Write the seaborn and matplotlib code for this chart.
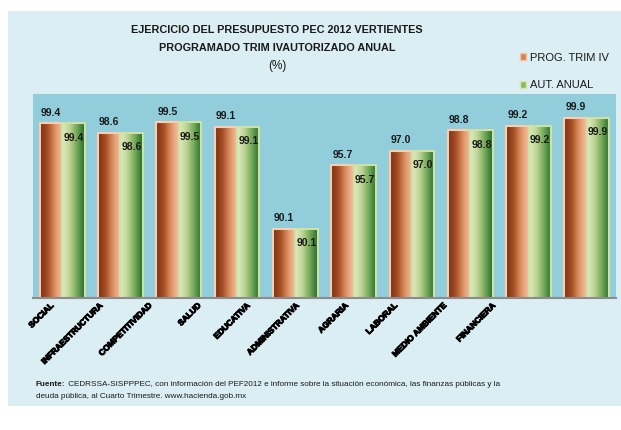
import matplotlib
matplotlib.use('Agg')
import matplotlib.pyplot as plt
import matplotlib.patheffects as pe
import seaborn as sns
import numpy as np
import pandas as pd
from matplotlib.colors import LinearSegmentedColormap
from matplotlib.patches import Rectangle, Patch

# datos
categorias = ['SOCIAL', 'INFRAESTRUCTURA', 'COMPETITIVIDAD', 'SALUD', 'EDUCATIVA',
              'ADMINISTRATIVA', 'AGRARIA', 'LABORAL', 'MEDIO AMBIENTE', 'FINANCIERA']
prog_trim_iv = [99.4, 98.6, 99.5, 99.1, 90.1, 95.7, 97.0, 98.8, 99.2, 99.9]
aut_anual = [99.4, 98.6, 99.5, 99.1, 90.1, 95.7, 97.0, 98.8, 99.2, 99.9]
series = ['PROG. TRIM IV', 'AUT. ANUAL']

sns.set_style('white')
plt.rcParams['font.family'] = ['Liberation Sans', 'DejaVu Sans']
plt.rcParams['text.color'] = '#1a1a1a'

df = pd.DataFrame({
    'vertiente': categorias * 2,
    'serie': [series[0]] * len(categorias) + [series[1]] * len(categorias),
    'valor': prog_trim_iv + aut_anual,
})

W, H = 621, 430
fig = plt.figure(figsize=(W / 100, H / 100), dpi=100)
# panel de fondo azul claro
fig.patches.append(Rectangle((8 / W, 24 / H), 1, 395 / H, transform=fig.transFigure,
                             facecolor='#DAEEF3', edgecolor='none', zorder=-5))
ax = fig.add_axes([33 / W, 132 / H, 583 / W, 204 / H])
ax.set_zorder(1)
ax.set_facecolor('#92CDDC')

sns.barplot(data=df, x='vertiente', y='valor', hue='serie', hue_order=series,
            palette=['#C0622E', '#7FAF55'], width=0.77, saturation=1,
            legend=False, ax=ax)

# degradados tipo Excel
cmap_prog = LinearSegmentedColormap.from_list('prog', ['#7A3214', '#A94E24', '#DD9466', '#F6C3A0'])
cmap_aut = LinearSegmentedColormap.from_list('aut', ['#E2ECC4', '#BCD493', '#72A656', '#1F6E2C'])
grad = np.linspace(0, 1, 64).reshape(1, -1)
for cont, cmap, edge in zip(ax.containers, [cmap_prog, cmap_aut], ['#F9CDB0', '#CFE2A6']):
    for bar in cont:
        x0, w, h = bar.get_x(), bar.get_width(), bar.get_height()
        im = ax.imshow(grad, cmap=cmap, aspect='auto', extent=[x0, x0 + w, 0, h],
                       zorder=1.5, interpolation='bicubic')
        im.set_clip_path(bar)
        im.set_clip_box(ax.bbox)
        bar.set_facecolor('none')
        bar.set_edgecolor(edge)
        bar.set_linewidth(1.5)
        bar.set_zorder(2)

ax.set_xlim(-0.5, len(categorias) - 0.5)
ax.set_ylim(84, 102)

ax.bar_label(ax.containers[0], fmt='%.1f', padding=4, fontsize=7.5, fontweight='bold')
ax.bar_label(ax.containers[1], fmt='%.1f', padding=-14, fontsize=7.5, fontweight='bold')

for s in ['top', 'right', 'left']:
    ax.spines[s].set_visible(False)
ax.spines['bottom'].set_color('#8C8C8C')
ax.spines['bottom'].set_linewidth(1.5)
ax.set_yticks([])
ax.set_xlabel('')
ax.set_ylabel('')

# marcas entre grupos y etiquetas giradas
ax.set_xticks(np.arange(-0.5, len(categorias), 1), minor=True)
ax.tick_params(axis='x', which='minor', length=4, color='#8C8C8C', width=1, direction='out')
label_pos = np.arange(len(categorias)) * 0.842 - 0.157
ax.set_xticks(label_pos)
ax.set_xticklabels(categorias, rotation=45, ha='right', va='center', rotation_mode='anchor',
                   fontsize=6, fontweight='bold', color='black')
ax.tick_params(axis='x', which='major', length=0, pad=5)
for lbl in ax.get_xticklabels():
    lbl.set_path_effects([pe.withStroke(linewidth=0.7, foreground='black')])

# titulo
fig.text(0.446, 1 - 30 / H, 'EJERCICIO DEL PRESUPUESTO PEC 2012 VERTIENTES',
         ha='center', va='center', fontsize=7.8, fontweight='bold')
fig.text(0.446, 1 - 48 / H, 'PROGRAMADO TRIM IVAUTORIZADO ANUAL',
         ha='center', va='center', fontsize=7.8, fontweight='bold')
fig.text(0.446, 1 - 66 / H, '(%)', ha='center', va='center', fontsize=8.5)

# leyenda
handles = [Patch(facecolor='#D9824F', edgecolor='#F6C3A0'),
           Patch(facecolor='#8DB864', edgecolor='#D8E8B0')]
fig.legend(handles, series, loc='upper left', bbox_to_anchor=(514 / W, 1 - 47 / H),
           frameon=False, fontsize=8, handlelength=0.6, handleheight=0.6,
           handletextpad=0.3, labelspacing=1.6, borderpad=0)

# fuente
t1 = fig.text(36 / W, 1 - 384 / H, 'Fuente:', fontweight='bold', fontsize=5.9, va='center')
fig.canvas.draw()
bb = t1.get_window_extent()
fig.text(bb.x1 / fig.bbox.width, 1 - 384 / H,
         ' CEDRSSA-SISPPPEC, con información del PEF2012 e informe sobre la situación económica, '
         'las finanzas públicas y la', fontsize=5.9, va='center')
fig.text(36 / W, 1 - 397 / H, 'deuda pública, al Cuarto Trimestre. www.hacienda.gob.mx',
         fontsize=5.9, va='center')

fig.savefig('out.png', dpi=100, facecolor='white')
